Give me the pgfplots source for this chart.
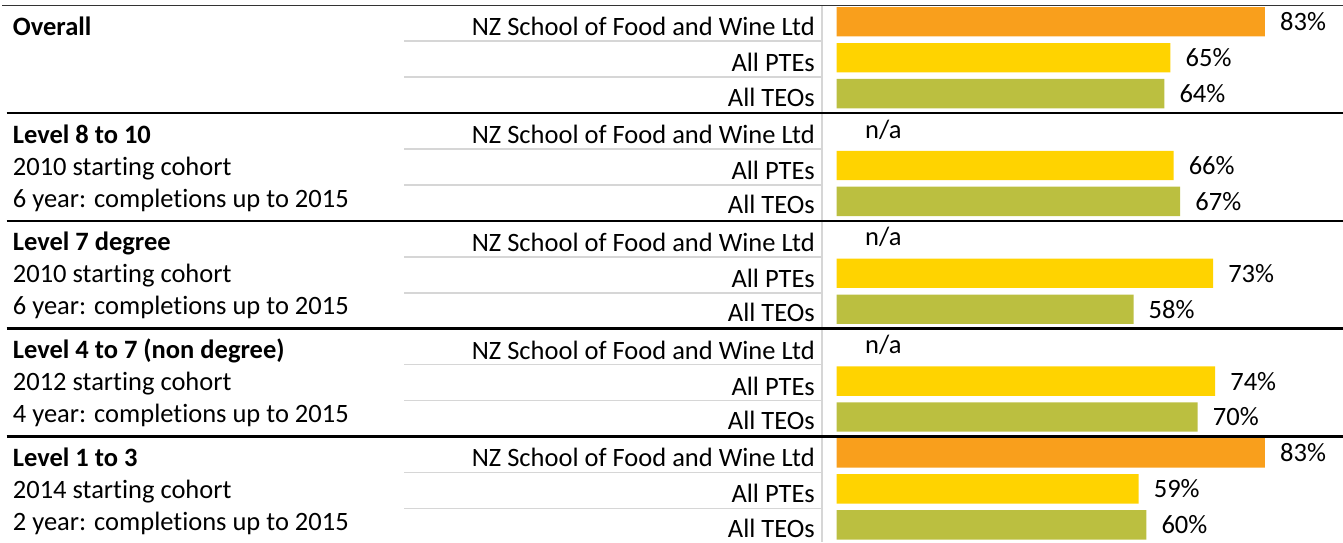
\documentclass[border=0pt]{standalone}
\usepackage{pgfplots}
\pgfplotsset{compat=1.18}
\usepackage{pgfplotstable}
\usepackage{fontspec}
\setmainfont[Ligatures=NoCommon]{Carlito}
\definecolor{cOr}{HTML}{F99F1C}
\definecolor{cYe}{HTML}{FFD300}
\definecolor{cOl}{HTML}{BBBF40}
\definecolor{cGrid}{HTML}{D6D6D6}

\pgfplotstableread{
x y m
83.4 0 83
83.4 12 83
}\nzdata
\pgfplotstableread{
x y m
65.0 1 65
65.6 4 66
73.3 7 73
73.7 10 74
58.8 13 59
}\ptedata
\pgfplotstableread{
x y m
63.8 2 64
66.9 5 67
57.8 8 58
70.3 11 70
60.3 14 60
}\teodata
\pgfplotstableread{
x y
0 3
0 6
0 9
}\nadata

\begin{document}
\fontsize{26.5}{30}\selectfont
\begin{tikzpicture}[font=\fontsize{26.5}{30}\selectfont]
\begin{scope}[x=1pt,y=-1pt]
  % vertical separator
  \draw[cGrid, line width=2pt] (821.7,5.3) -- (821.7,542);
  % top line
  \draw[black!80, line width=1.5pt] (2,5.3) -- (1343,5.3);
  % row lines
  \foreach \g in {0,1,2,3,4}{
    \pgfmathsetmacro{\T}{5.3+107.8*\g}
    \pgfmathsetmacro{\ra}{\T+35.93}
    \pgfmathsetmacro{\rb}{\T+71.87}
    \draw[cGrid, line width=1.5pt] (404,\ra) -- (821,\ra);
    \draw[cGrid, line width=1.5pt] (404,\rb) -- (821,\rb);
  }
  % group lines
  \foreach \g in {1,2,3,4}{
    \pgfmathsetmacro{\T}{5.3+107.8*\g}
    \draw[black, line width=2.5pt] (6.7,\T) -- (1343,\T);
  }
  % middle labels
  \foreach \g in {0,1,2,3,4}{
    \pgfmathsetmacro{\T}{5.3+107.8*\g}
    \pgfmathsetmacro{\ba}{\T+35.93-5.5}
    \pgfmathsetmacro{\bb}{\T+71.87-5.5}
    \pgfmathsetmacro{\bc}{\T+107.8-7}
    \node[anchor=base east, inner sep=0pt] at (815,\ba) {NZ School of Food and Wine Ltd};
    \node[anchor=base east, inner sep=0pt] at (815,\bb) {All PTEs};
    \node[anchor=base east, inner sep=0pt] at (815,\bc) {All TEOs};
  }
  % left group labels
  \node[anchor=base west, inner sep=0pt] at (12.7,35.3) {\bfseries Overall};
  \node[anchor=base west, inner sep=0pt] at (12.7,143.1) {\bfseries Level 8 to 10};
  \node[anchor=base west, inner sep=0pt] at (12.7,175.1) {2010 starting cohort};
  \node[anchor=base west, inner sep=0pt] at (12.7,207.1) {6 year: completions up to 2015};
  \node[anchor=base west, inner sep=0pt] at (12.7,250.9) {\bfseries Level 7 degree};
  \node[anchor=base west, inner sep=0pt] at (12.7,282.9) {2010 starting cohort};
  \node[anchor=base west, inner sep=0pt] at (12.7,314.9) {6 year: completions up to 2015};
  \node[anchor=base west, inner sep=0pt] at (12.7,358.7) {\bfseries Level 4 to 7 (non degree)};
  \node[anchor=base west, inner sep=0pt] at (12.7,390.7) {2012 starting cohort};
  \node[anchor=base west, inner sep=0pt] at (12.7,422.7) {4 year: completions up to 2015};
  \node[anchor=base west, inner sep=0pt] at (12.7,466.5) {\bfseries Level 1 to 3};
  \node[anchor=base west, inner sep=0pt] at (12.7,498.5) {2014 starting cohort};
  \node[anchor=base west, inner sep=0pt] at (12.7,530.5) {2 year: completions up to 2015};
\end{scope}

\begin{axis}[
  at={(836.7pt,-3.8pt)}, anchor=north west,
  scale only axis, width=506.3pt, height=538.95pt,
  xmin=0, xmax=98.6, ymin=-0.5, ymax=14.5, y dir=reverse,
  axis lines=none, clip=false,
  xbar, bar width=29.4pt, bar shift=0pt,
  nodes near coords style={anchor=west, inner sep=0pt, xshift=15pt, font=\fontsize{26.5}{30}\selectfont, text=black},
]
\addplot[fill=cOr, draw=none, point meta=explicit symbolic, nodes near coords={\pgfplotspointmeta\%}] table[x=x,y=y,meta=m]{\nzdata};
\addplot[fill=cYe, draw=none, point meta=explicit symbolic, nodes near coords={\pgfplotspointmeta\%}] table[x=x,y=y,meta=m]{\ptedata};
\addplot[fill=cOl, draw=none, point meta=explicit symbolic, nodes near coords={\pgfplotspointmeta\%}] table[x=x,y=y,meta=m]{\teodata};
\addplot[fill=none, draw=none, nodes near coords={n/a}, nodes near coords style={anchor=west, inner sep=0pt, xshift=13.3pt}] table[x=x,y=y]{\nadata};
\end{axis}
\pgfresetboundingbox
\path[use as bounding box] (0pt,0pt) rectangle (1343pt,-542pt);
\end{tikzpicture}
\end{document}
